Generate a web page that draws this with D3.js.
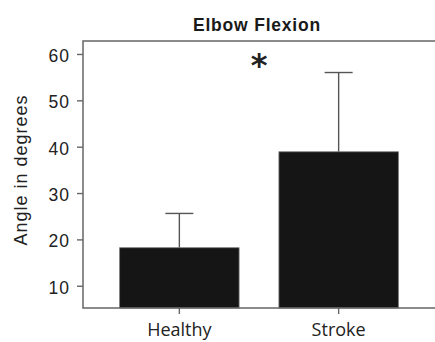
<!DOCTYPE html>
<html>
<head>
<meta charset="utf-8">
<script src="https://cdn.jsdelivr.net/npm/d3@7"></script>
<style>
  html, body { margin: 0; padding: 0; background: #fff; }
  svg { display: block; }
</style>
</head>
<body>
<svg id="chart" width="435" height="342"></svg>
<script>
// Elbow flexion angle, group means with SD (upper whisker only)
const groups = ["Healthy", "Stroke"];
const means = [18.2, 38.9];
const sds = [7.4, 17.1];
const yTicks = [10, 20, 30, 40, 50, 60];
const title = "Elbow Flexion";
const yLabel = "Angle in degrees";
const sigMark = "*";

const svg = d3.select("#chart");
const W = 435, H = 342;
const m = { top: 41, right: 0, bottom: 34, left: 83 };
const axisColor = "#666";

const x = d3.scaleBand()
  .domain(groups)
  .range([m.left, W - m.right])
  .paddingInner(0.25)
  .paddingOuter(0.23);

const y = d3.scaleLinear()
  .domain([5.2, 62.8])
  .range([H - m.bottom, m.top]);

const data = groups.map((g, i) => ({ g, mean: means[i], sd: sds[i] }));

// error bars (drawn first so the bar covers the lower half)
const eb = svg.append("g")
  .attr("stroke", "#555")
  .attr("stroke-width", 1.4)
  .attr("fill", "none");
data.forEach(d => {
  const cx = x(d.g) + x.bandwidth() / 2;
  const cap = 14;
  eb.append("line")
    .attr("x1", cx).attr("x2", cx)
    .attr("y1", y(d.mean)).attr("y2", y(d.mean + d.sd));
  eb.append("line")
    .attr("x1", cx - cap).attr("x2", cx + cap)
    .attr("y1", y(d.mean + d.sd)).attr("y2", y(d.mean + d.sd));
});

// bars
svg.append("g").selectAll("rect")
  .data(data)
  .join("rect")
  .attr("x", d => x(d.g))
  .attr("width", x.bandwidth())
  .attr("y", d => y(d.mean))
  .attr("height", d => y(y.domain()[0]) - y(d.mean))
  .attr("fill", "#151515")
  .attr("stroke", "#777")
  .attr("stroke-width", 0.8);

// y axis
const yAxis = svg.append("g")
  .attr("transform", `translate(${m.left},0)`)
  .call(d3.axisLeft(y).tickValues(yTicks).tickSize(6).tickPadding(7).tickSizeOuter(0));
yAxis.select(".domain").remove();
yAxis.selectAll(".tick line").attr("stroke", axisColor).attr("stroke-width", 1.4);
yAxis.selectAll(".tick text")
  .attr("fill", "#222")
  .attr("font-family", "'Liberation Sans', Arial, sans-serif")
  .attr("font-size", 17.5)
  .attr("letter-spacing", 1)
  .attr("dy", "0.42em");

// x axis
const xAxis = svg.append("g")
  .attr("transform", `translate(0,${H - m.bottom})`)
  .call(d3.axisBottom(x).tickSize(6).tickPadding(7).tickSizeOuter(0));
xAxis.select(".domain").remove();
xAxis.selectAll(".tick line").attr("stroke", axisColor).attr("stroke-width", 1.4);
xAxis.selectAll(".tick text")
  .attr("fill", "#222")
  .attr("font-family", "'Open Sans', sans-serif")
  .attr("font-size", 18)
  .attr("dy", "0.85em");

// open frame: left, bottom and top lines
svg.append("path")
  .attr("d", `M${W},${m.top}H${m.left}V${H - m.bottom}H${W}`)
  .attr("fill", "none")
  .attr("stroke", axisColor)
  .attr("stroke-width", 1.5);

// title
svg.append("text")
  .attr("x", 257).attr("y", 30.5)
  .attr("text-anchor", "middle")
  .attr("font-family", "'Liberation Sans', Arial, sans-serif")
  .attr("font-weight", "bold")
  .attr("font-size", 17.5)
  .attr("letter-spacing", 0.8)
  .attr("fill", "#1a1a1a")
  .text(title);

// y label
svg.append("text")
  .attr("transform", `translate(27,${170}) rotate(-90)`)
  .attr("text-anchor", "middle")
  .attr("font-family", "'Liberation Sans', Arial, sans-serif")
  .attr("font-size", 18)
  .attr("letter-spacing", 1)
  .attr("fill", "#222")
  .text(yLabel);

// significance marker between the groups
const midX = (x(groups[0]) + x(groups[1]) + x.bandwidth()) / 2;
svg.append("text")
  .attr("x", midX).attr("y", 76)
  .attr("text-anchor", "middle")
  .attr("font-family", "'DejaVu Sans', sans-serif")
  .attr("font-weight", "bold")
  .attr("font-size", 32)
  .attr("fill", "#222")
  .text(sigMark);
</script>
</body>
</html>
